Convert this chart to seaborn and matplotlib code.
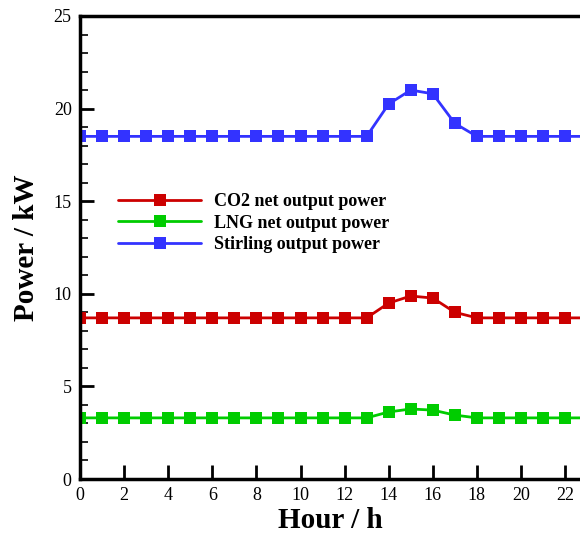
import numpy as np
import pandas as pd
import matplotlib
matplotlib.use("Agg")
import matplotlib.pyplot as plt
import seaborn as sns
from matplotlib.ticker import MultipleLocator

hours = list(range(24))
co2 = [8.7]*14 + [9.5, 9.88, 9.77, 9.0] + [8.7]*6
lng = [3.3]*14 + [3.62, 3.78, 3.72, 3.45] + [3.3]*6
stirling = [18.5]*14 + [20.25, 21.0, 20.8, 19.2] + [18.5]*6
names = ["CO2 net output power", "LNG net output power", "Stirling output power"]
colors = ["#CC0000", "#00CC00", "#3333FF"]

df = pd.DataFrame({
    "Hour": hours * 3,
    "Power": co2 + lng + stirling,
    "Series": [names[0]] * 24 + [names[1]] * 24 + [names[2]] * 24,
})

sns.set_style("ticks")
plt.rcParams["font.family"] = ["Liberation Serif", "DejaVu Serif"]
plt.rcParams["text.color"] = "black"
plt.rcParams["axes.labelcolor"] = "black"

fig = plt.figure(figsize=(5.8, 5.34), dpi=100)
ax = fig.add_axes([80/580, 55/534, 1 - 80/580, 463/534])

sns.lineplot(data=df, x="Hour", y="Power", hue="Series", hue_order=names,
             palette=colors, marker="s", markersize=8, markeredgewidth=0,
             linewidth=2, ax=ax, legend=True)

ax.set_xlim(0, 500/22.05)
ax.set_ylim(0, 25)
ax.xaxis.set_major_locator(MultipleLocator(2))
ax.yaxis.set_major_locator(MultipleLocator(5))
ax.yaxis.set_minor_locator(MultipleLocator(1))
ax.tick_params(axis="both", which="major", direction="in", length=10, width=2,
               labelsize=13, pad=6, colors="black")
ax.tick_params(axis="y", which="minor", direction="in", length=6, width=1.2,
               colors="black")
ax.tick_params(top=False, right=False)
for s in ["left", "bottom", "top"]:
    ax.spines[s].set_linewidth(2.5)
    ax.spines[s].set_color("black")
ax.spines["right"].set_visible(False)

ax.set_xlabel("Hour / h", fontsize=21, fontweight="bold", labelpad=2, color="black")
ax.set_ylabel("Power / kW", fontsize=21, fontweight="bold", labelpad=10, color="black")

leg = ax.legend(loc="upper left", bbox_to_anchor=((118-80)/500, (479-193)/463),
                frameon=False, fontsize=13, handlelength=4.6, handletextpad=0.7,
                borderpad=0, borderaxespad=0, labelspacing=0.25)
for t in leg.get_texts():
    t.set_fontweight("bold")
    t.set_color("black")

fig.savefig("out.png", dpi=100)
